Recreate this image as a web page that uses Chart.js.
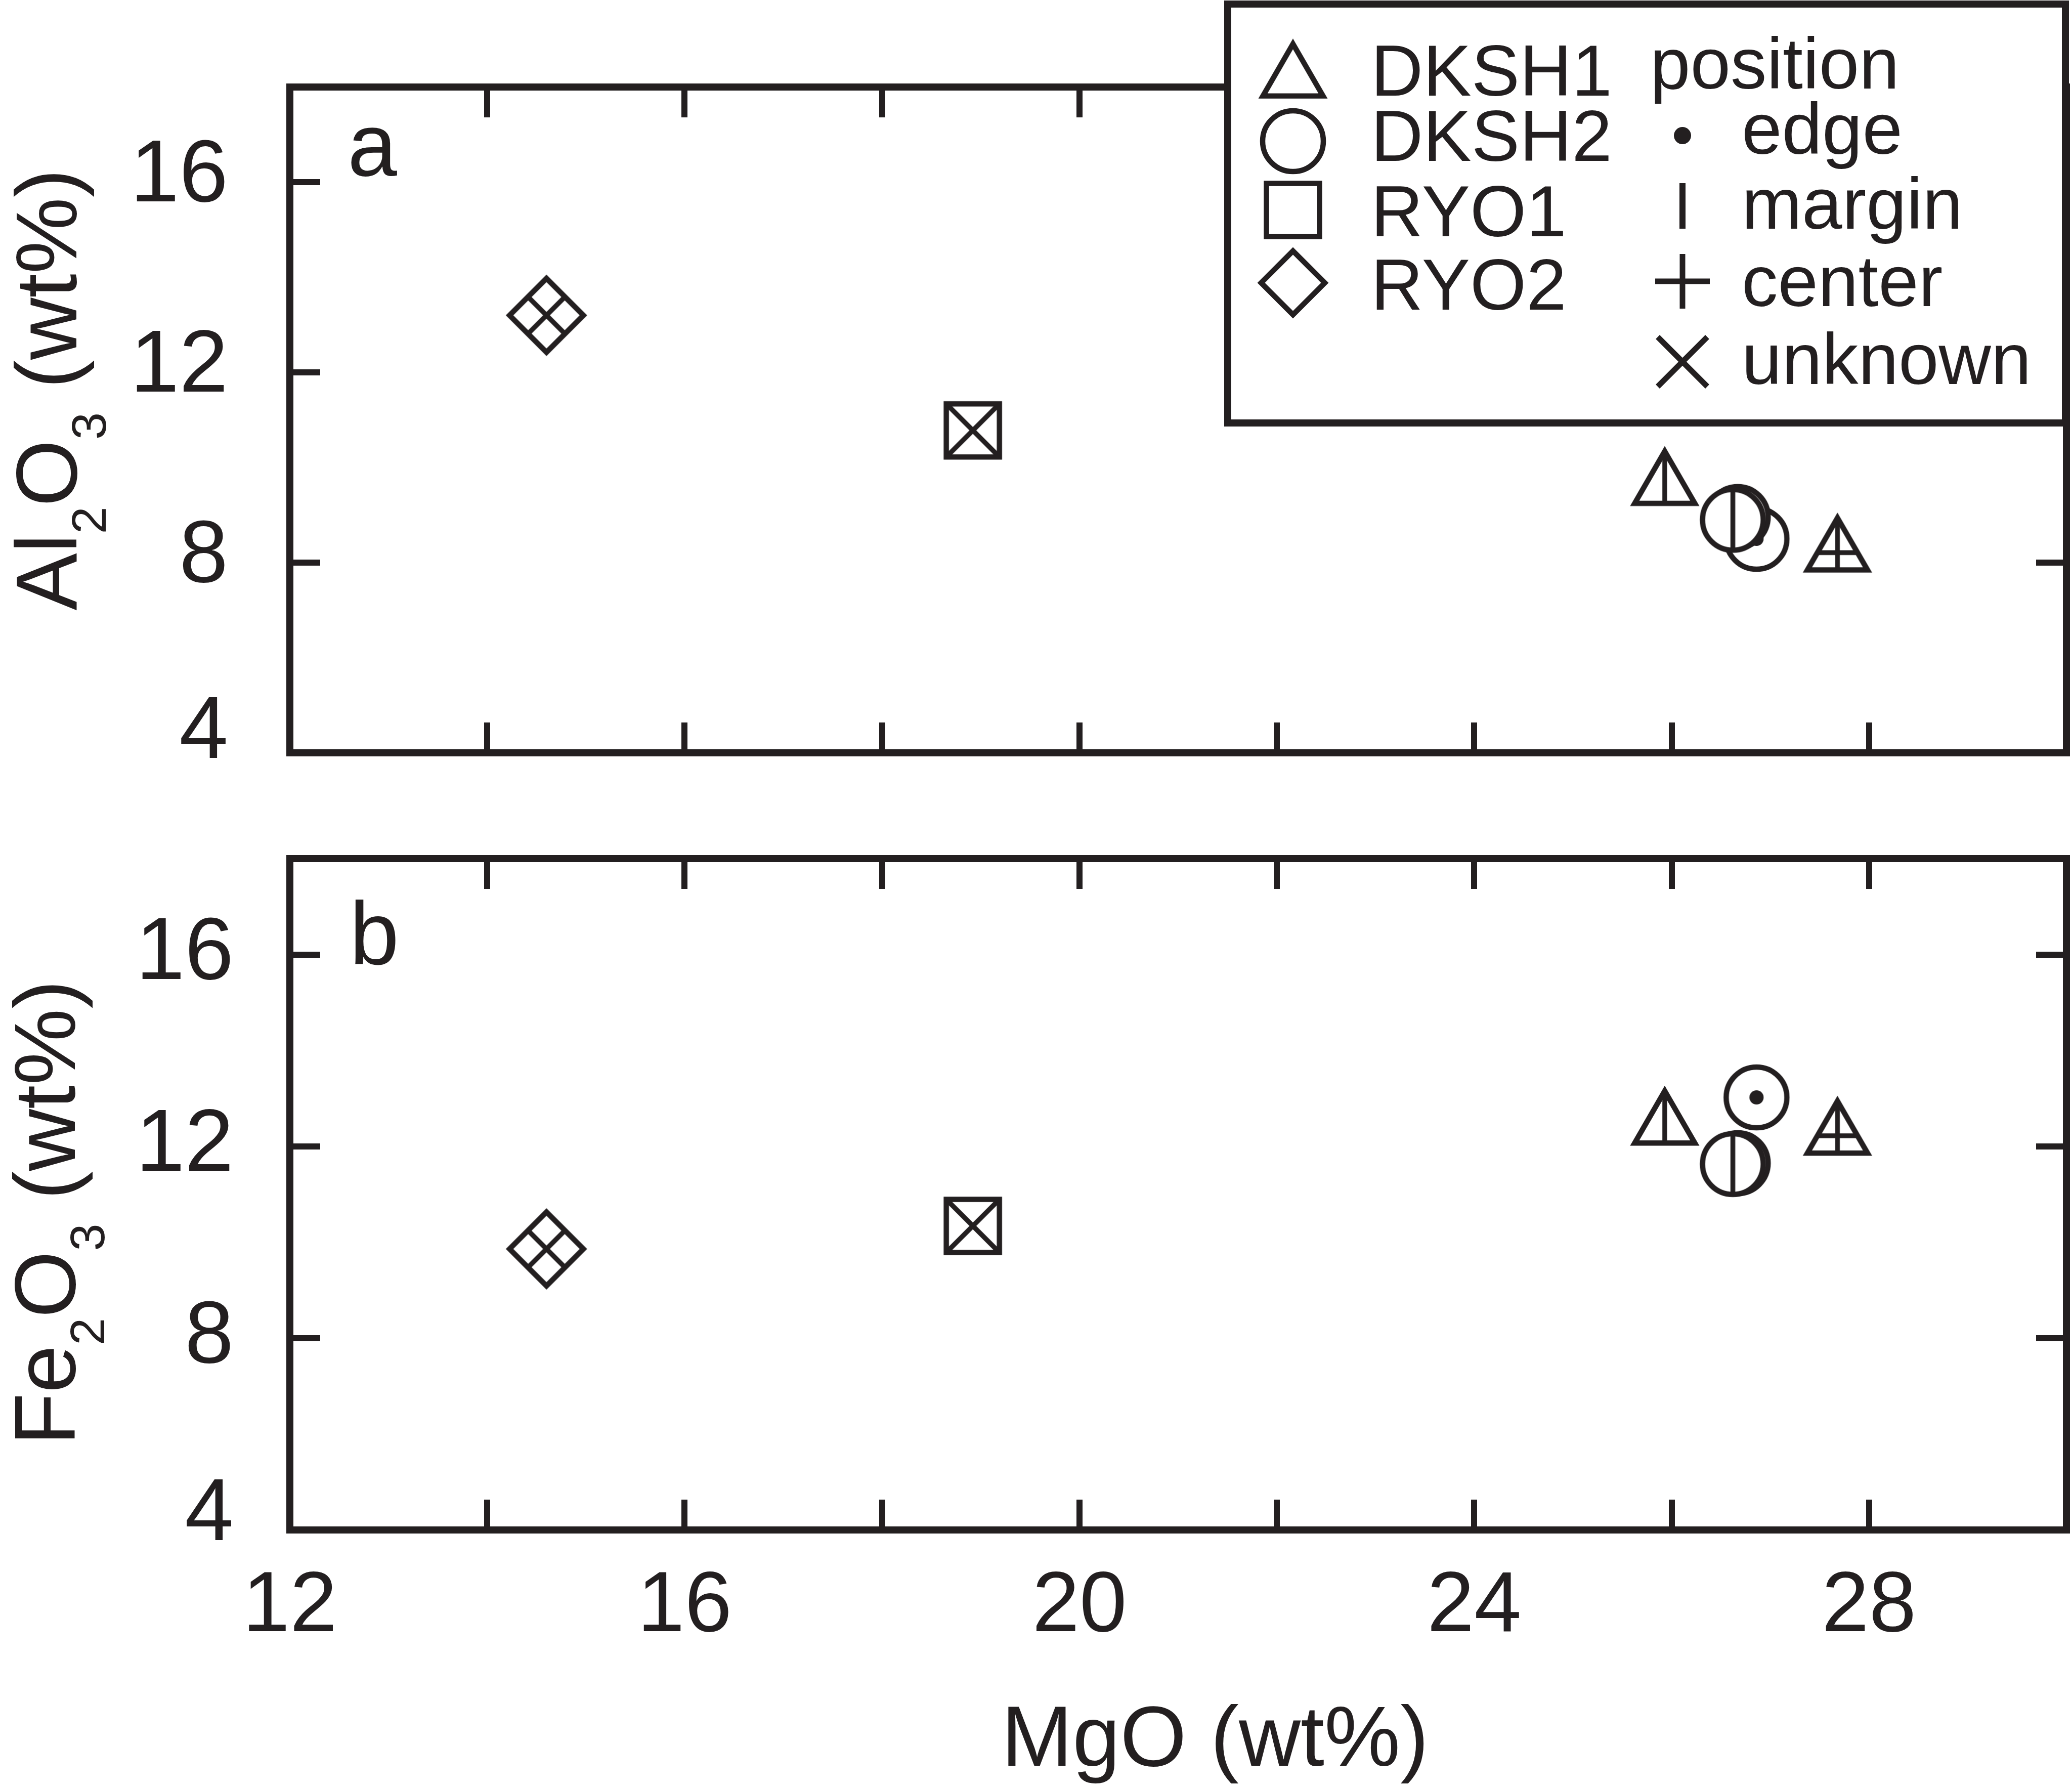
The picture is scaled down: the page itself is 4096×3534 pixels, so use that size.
<!DOCTYPE html>
<html>
<head>
<meta charset="utf-8">
<title>MgO vs Al2O3 / Fe2O3</title>
<script src="https://cdn.jsdelivr.net/npm/chart.js@4.4.1/dist/chart.umd.min.js"></script>
<style>
    html, body { margin: 0; padding: 0; background: #fff; overflow: hidden; }
    #wrap { position: relative; width: 4096px; height: 3534px; overflow: hidden; background: #fff; }
    canvas { position: absolute; left: 0; }
    #chartA { top: 0; }
    #chartB { top: 1550px; }
</style>
</head>
<body>
<div id="wrap">
    <!-- canvases are a bit wider than the page: Chart.js keeps 60px on the right for the inward ticks -->
    <canvas id="chartA" width="4145" height="1600"></canvas>
    <canvas id="chartB" width="4145" height="1984"></canvas>
</div>
<script>
const INK = '#231f20'
const FONT = '"Liberation Sans", Arial, Helvetica, sans-serif'

// values (wt%)
const dksh1MgO = [25.93, 27.68]
const dksh1Al2O3 = [9.61, 8.21]
const dksh1Fe2O3 = [12.43, 12.22]
const dksh1Position = ['margin', 'center']

const dksh2MgO = [26.86, 26.67, 26.62]
const dksh2Al2O3 = [8.50, 8.96, 8.90]
const dksh2Fe2O3 = [13.02, 11.65, 11.63]
const dksh2Position = ['edge', 'margin', 'margin']

const ryo1MgO = [18.92]
const ryo1Al2O3 = [10.78]
const ryo1Fe2O3 = [10.34]
const ryo1Position = ['unknown']

const ryo2MgO = [14.60]
const ryo2Al2O3 = [13.20]
const ryo2Fe2O3 = [9.86]
const ryo2Position = ['unknown']

const sampleNames = ['DKSH1', 'DKSH2', 'RYO1', 'RYO2']
const sampleShapes = ['triangle', 'circle', 'square', 'diamond']
const positionNames = ['edge', 'margin', 'center', 'unknown']

const xTickLabels = [12, 16, 20, 24, 28]
const yTickLabels = [4, 8, 12, 16]

// marker half sizes (circumradius / radius / half side / half diagonal)
const SHAPE_SIZE = { triangle: 68.7, circle: 60, square: 52.5, diamond: 73 }

const markerCache = {}

function marker(shape, position, half) {
    const key = shape + ':' + position + ':' + half
    if (markerCache[key]) return markerCache[key]
    const c = document.createElement('canvas')
    c.width = 200
    c.height = 200
    const g = c.getContext('2d')
    g.translate(100, 100)
    const outline = new Path2D()
    if (shape === 'triangle') {
        const dx = half * Math.sin(Math.PI / 3)
        outline.moveTo(0, -half)
        outline.lineTo(dx, half / 2)
        outline.lineTo(-dx, half / 2)
        outline.closePath()
    } else if (shape === 'circle') {
        outline.arc(0, 0, half, 0, Math.PI * 2)
    } else if (shape === 'square') {
        outline.rect(-half, -half, half * 2, half * 2)
    } else {
        outline.moveTo(0, -half)
        outline.lineTo(half, 0)
        outline.lineTo(0, half)
        outline.lineTo(-half, 0)
        outline.closePath()
    }
    g.fillStyle = '#fff'
    g.fill(outline)

    // inner symbol, clipped to the shape
    g.save()
    g.clip(outline)
    g.strokeStyle = INK
    g.fillStyle = INK
    g.lineWidth = 9.5
    g.beginPath()
    if (position === 'margin' || position === 'center') {
        g.moveTo(0, -100)
        g.lineTo(0, 100)
    }
    if (position === 'center') {
        g.moveTo(-100, 0)
        g.lineTo(100, 0)
    }
    if (position === 'unknown') {
        g.moveTo(-100, -100)
        g.lineTo(100, 100)
        g.moveTo(100, -100)
        g.lineTo(-100, 100)
    }
    g.stroke()
    if (position === 'edge') {
        g.beginPath()
        g.arc(0, 0, 14, 0, Math.PI * 2)
        g.fill()
    }
    g.restore()

    g.strokeStyle = INK
    g.lineWidth = 10.5
    g.lineJoin = 'miter'
    g.stroke(outline)
    markerCache[key] = c
    return c
}

function sampleDataset(label, shape, xs, ys, positions) {
    return {
        label: label,
        data: xs.map((x, i) => ({ x: x, y: ys[i] })),
        pointStyle: (ctx) => marker(shape, positions[ctx.dataIndex] || 'none', SHAPE_SIZE[shape]),
        pointRadius: 60,
        pointBorderWidth: 0
    }
}

function tickGrid() {
    return {
        drawOnChartArea: false,
        drawTicks: true,
        tickLength: -60,
        tickWidth: 12,
        tickColor: INK,
        lineWidth: 12,
        color: INK
    }
}

function fixSize(prop, size) {
    return (s) => {
        s[prop] = size
        s.paddingTop = 0
        s.paddingBottom = 0
        s.paddingLeft = 0
        s.paddingRight = 0
    }
}

function buildScales(o) {
    return {
        x: {
            type: 'linear', position: 'bottom', min: 12, max: 30,
            border: { display: false },
            grid: tickGrid(),
            ticks: {
                stepSize: 2, autoSkip: false, maxRotation: 0, display: o.xLabels,
                padding: 113, color: INK, font: { family: FONT, size: 168 },
                callback: (v) => xTickLabels.includes(v) ? String(v) : ''
            },
            afterFit: fixSize('height', o.xHeight)
        },
        x2: {
            axis: 'x', type: 'linear', position: 'top', min: 12, max: 30,
            border: { display: false },
            grid: tickGrid(),
            ticks: { stepSize: 2, autoSkip: false, display: false },
            afterFit: fixSize('height', o.topHeight)
        },
        y: {
            type: 'linear', position: 'left', min: 4, max: 18,
            border: { display: false },
            grid: tickGrid(),
            ticks: {
                stepSize: 4, includeBounds: false, autoSkip: false,
                padding: o.yPad, labelOffset: o.yOffset, color: INK,
                // the "4" sits a little higher than its tick, as in the original
                font: (c) => ({
                    family: FONT, size: 174,
                    lineHeight: c.tick && c.tick.value === 4 ? '56px' : 1.2
                }),
                callback: (v) => v === 4 ? ['4', ''] : (yTickLabels.includes(v) ? String(v) : '')
            },
            afterFit: fixSize('width', 573)
        },
        y2: {
            axis: 'y', type: 'linear', position: 'right', min: 4, max: 18,
            border: { display: false },
            grid: tickGrid(),
            ticks: { stepSize: 4, includeBounds: false, display: false },
            afterFit: fixSize('width', 11)
        }
    }
}

const framePlugin = {
    id: 'frame',
    beforeDatasetsDraw(chart) {
        const { ctx, chartArea: a } = chart
        ctx.save()
        ctx.strokeStyle = INK
        ctx.lineWidth = 14
        ctx.lineJoin = 'miter'
        ctx.strokeRect(a.left, a.top, a.right - a.left, a.bottom - a.top)
        ctx.restore()
    }
}

// y title with subscripts, panel letter, optional x title
function textPlugin(id, formula, baseX, centerY, letter, letterX, letterY, xTitle) {
    return {
        id: id,
        afterDraw(chart) {
            const ctx = chart.ctx
            ctx.save()
            ctx.fillStyle = INK
            ctx.textAlign = 'left'
            ctx.textBaseline = 'alphabetic'
            const mainFont = '170px ' + FONT
            const subFont = '97px ' + FONT
            let total = 0
            formula.forEach(([t, sub]) => {
                ctx.font = sub ? subFont : mainFont
                total += ctx.measureText(t).width
            })
            ctx.translate(baseX, centerY)
            ctx.rotate(-Math.PI / 2)
            let x = -total / 2
            formula.forEach(([t, sub]) => {
                ctx.font = sub ? subFont : mainFont
                ctx.fillText(t, x, sub ? 58 : 0)
                x += ctx.measureText(t).width
            })
            ctx.setTransform(1, 0, 0, 1, 0, 0)
            ctx.font = '176px ' + FONT
            ctx.fillText(letter, letterX, letterY)
            if (xTitle) {
                ctx.textAlign = 'center'
                ctx.font = '169px ' + FONT
                ctx.fillText(xTitle.text, xTitle.x, xTitle.y)
            }
            ctx.restore()
        }
    }
}

const legendPlugin = {
    id: 'sampleLegend',
    afterDraw(chart) {
        const ctx = chart.ctx
        ctx.save()
        ctx.fillStyle = '#fff'
        ctx.fillRect(2427, 8, 1656, 828)
        ctx.strokeStyle = INK
        ctx.lineWidth = 14
        ctx.strokeRect(2427, 8, 1656, 828)

        const markerY = [155.5, 279, 415, 559]
        const textY = [189, 318, 467, 612]
        ctx.font = '143px ' + FONT
        ctx.textAlign = 'left'
        ctx.textBaseline = 'alphabetic'
        sampleNames.forEach((name, i) => {
            const shape = sampleShapes[i]
            const m = marker(shape, 'none', shape === 'diamond' ? 63 : SHAPE_SIZE[shape])
            ctx.drawImage(m, 2556 - m.width / 2, markerY[i] - m.height / 2)
            ctx.fillStyle = INK
            ctx.fillText(name, 2710, textY[i])
        })

        ctx.fillText('position', 3262, 175)
        const posY = [304, 452, 605, 759]
        positionNames.forEach((name, i) => ctx.fillText(name, 3443, posY[i]))

        // position symbols
        ctx.strokeStyle = INK
        ctx.beginPath()
        ctx.arc(3326, 268, 17, 0, Math.PI * 2)
        ctx.fill()
        ctx.lineWidth = 12
        ctx.beginPath()
        ctx.moveTo(3326, 362)
        ctx.lineTo(3326, 452)
        ctx.stroke()
        ctx.lineWidth = 11
        ctx.beginPath()
        ctx.moveTo(3272, 556)
        ctx.lineTo(3380, 556)
        ctx.moveTo(3326, 502)
        ctx.lineTo(3326, 610)
        ctx.moveTo(3277, 666)
        ctx.lineTo(3375, 764)
        ctx.moveTo(3375, 666)
        ctx.lineTo(3277, 764)
        ctx.stroke()
        ctx.restore()
    }
}

const baseOptions = {
    responsive: false,
    devicePixelRatio: 1,
    animation: false,
    events: [],
    layout: { padding: 0 },
    plugins: { legend: { display: false }, tooltip: { enabled: false } }
}

new Chart(document.getElementById('chartA'), {
    type: 'scatter',
    data: {
        datasets: [
            sampleDataset('DKSH1', 'triangle', dksh1MgO, dksh1Al2O3, dksh1Position),
            sampleDataset('DKSH2', 'circle', dksh2MgO, dksh2Al2O3, dksh2Position),
            sampleDataset('RYO1', 'square', ryo1MgO, ryo1Al2O3, ryo1Position),
            sampleDataset('RYO2', 'diamond', ryo2MgO, ryo2Al2O3, ryo2Position)
        ]
    },
    options: Object.assign({}, baseOptions, {
        scales: buildScales({ xLabels: false, xHeight: 112, topHeight: 172, yPad: 182, yOffset: -10 })
    }),
    plugins: [
        framePlugin,
        textPlugin('textA', [['Al', 0], ['2', 1], ['O', 0], ['3', 1], [' (wt%)', 0]], 151, 770, 'a', 687, 347),
        legendPlugin
    ]
})

new Chart(document.getElementById('chartB'), {
    type: 'scatter',
    data: {
        datasets: [
            sampleDataset('DKSH1', 'triangle', dksh1MgO, dksh1Fe2O3, dksh1Position),
            sampleDataset('DKSH2', 'circle', dksh2MgO, dksh2Fe2O3, dksh2Position),
            sampleDataset('RYO1', 'square', ryo1MgO, ryo1Fe2O3, ryo1Position),
            sampleDataset('RYO2', 'diamond', ryo2MgO, ryo2Fe2O3, ryo2Position)
        ]
    },
    options: Object.assign({}, baseOptions, {
        scales: buildScales({ xLabels: true, xHeight: 510, topHeight: 147, yPad: 171, yOffset: 0 })
    }),
    plugins: [
        framePlugin,
        textPlugin('textB', [['Fe', 0], ['2', 1], ['O', 0], ['3', 1], [' (wt%)', 0]], 148, 847, 'b', 691, 356,
            { text: 'MgO (wt%)', x: 2402, y: 1940 })
    ]
})
</script>
</body>
</html>
